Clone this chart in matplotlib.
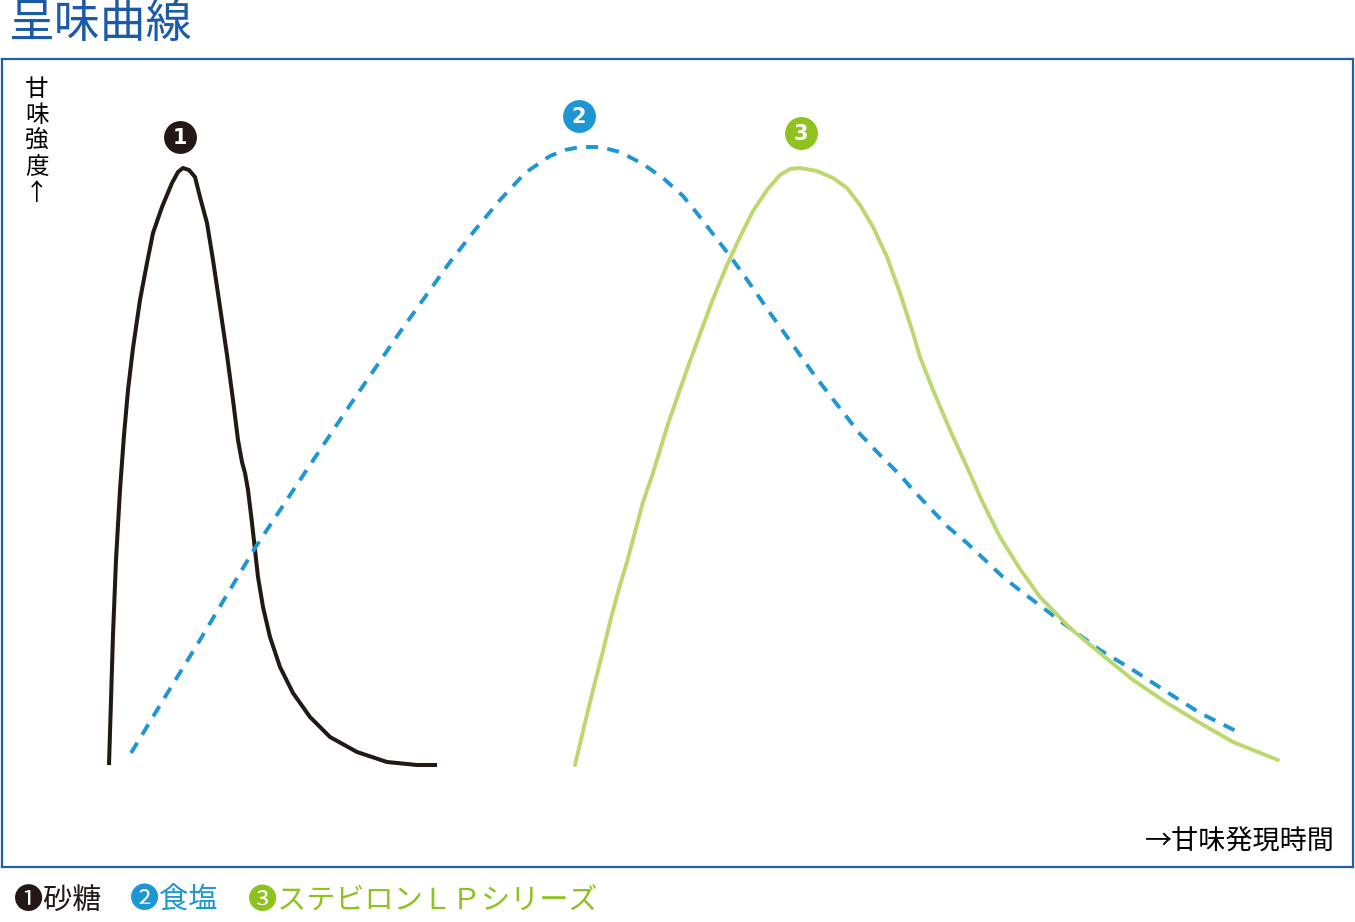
import matplotlib
matplotlib.use("Agg")
import matplotlib.pyplot as plt

plt.rcParams["font.family"] = ["Noto Sans CJK JP", "DejaVu Sans"]

FRAME_BOTTOM = 867   # pixel row of the frame bottom, intensity = FRAME_BOTTOM - row

# curves as (time, pixel row)
SUGAR_T = [109, 111, 113, 116, 120, 124, 128, 133, 140, 147, 153, 162, 172, 178, 183, 189,
           195, 200, 207, 213, 220, 227, 233, 238, 242, 245, 248, 252, 255, 258, 263, 270,
           280, 293, 310, 330, 357, 387, 417, 437]
SUGAR_Y = [765, 700, 635, 560, 490, 435, 390, 348, 300, 263, 233, 207, 183, 172, 168, 170,
           177, 197, 223, 260, 307, 355, 400, 440, 462, 473, 490, 523, 550, 577, 607, 637,
           667, 693, 717, 737, 752, 762, 765, 765]

SALT_T = [131, 165, 200, 228, 255, 300, 350, 400, 450, 475, 500, 525, 550, 565, 580, 600,
          620, 643, 663, 683, 700, 713, 730, 743, 757, 770, 785, 800, 815, 832, 860, 880,
          900, 913, 930, 948, 967, 985, 1003, 1022, 1042, 1063, 1100, 1133, 1167, 1200, 1240]
SALT_Y = [753, 697, 640, 593, 548, 480, 405, 332, 262, 230, 200, 173, 156, 150, 147, 147,
          152, 164, 178, 196, 217, 234, 256, 274, 294, 313, 334, 355, 376, 398, 434, 455,
          475, 490, 508, 527, 543, 560, 577, 592, 607, 623, 650, 670, 692, 713, 733]

STEVIA_T = [575, 584, 593, 602, 610, 618, 627, 635, 643, 652, 660, 668, 677, 690, 700, 713,
            727, 740, 753, 767, 780, 790, 800, 817, 833, 847, 860, 873, 887, 900, 913, 920,
            933, 950, 967, 983, 1000, 1020, 1040, 1070, 1100, 1133, 1167, 1200, 1233, 1278]
STEVIA_Y = [765, 727, 690, 655, 622, 592, 562, 532, 502, 476, 450, 424, 398, 361, 334, 299,
            265, 237, 211, 190, 175, 169, 168, 171, 178, 188, 205, 227, 257, 293, 333, 357,
            390, 430, 467, 503, 537, 569, 597, 628, 653, 680, 703, 723, 742, 760]

LABELS = ["1", "2", "3"]
LABEL_T = [180, 579, 801]
LABEL_Y = [137, 116, 133]

LEGEND = ["❶砂糖", "❷食塩", "❸ステビロンＬＰシリーズ"]
LEGEND_X = [14, 130, 248]

BLACK = "#231815"
BLUE = "#1e96d4"
GREEN_LINE = "#bad86e"
GREEN = "#8dc21f"
NAVY = "#1b5aa6"


def inten(rows):
    return [FRAME_BOTTOM - r for r in rows]


fig = plt.figure(figsize=(13.55, 9.22), dpi=100)
ax = fig.add_axes([2 / 1355, 55 / 922, 1351 / 1355, 808 / 922])
ax.set_xlim(2, 1353)
ax.set_ylim(0, 808)
ax.set_xticks([])
ax.set_yticks([])
for sp in ax.spines.values():
    sp.set_color("#1f5fa8")
    sp.set_linewidth(1.6)

ax.plot(SUGAR_T, inten(SUGAR_Y), color=BLACK, lw=2.9, solid_capstyle="butt", solid_joinstyle="round")
ax.plot(SALT_T, inten(SALT_Y), color=BLUE, lw=2.8, linestyle=(0, (3.1, 2.4)), dash_capstyle="butt")
ax.plot(STEVIA_T, inten(STEVIA_Y), color=GREEN_LINE, lw=2.8, solid_capstyle="round", solid_joinstyle="round")

for lab, t, i, c in zip(LABELS, LABEL_T, inten(LABEL_Y), [BLACK, BLUE, GREEN]):
    ax.scatter([t], [i], s=560, color=c, zorder=5, linewidths=0)
    ax.text(t, i - 1, lab, color="white", fontsize=15, fontweight="bold",
            ha="center", va="center", zorder=6, family=["DejaVu Sans"])

ax.text(37, 789, "甘\n味\n強\n度\n↑", fontsize=17, linespacing=1.16,
        ha="center", va="top", color="black")
ax.text(1335, 25, "→甘味発現時間", fontsize=19.5, ha="right", va="center", color="black")

fig.text(8 / 1355, 1 - 24 / 922, "呈味曲線", fontsize=33, color=NAVY, ha="left", va="center")

for txt, x, c in zip(LEGEND, LEGEND_X, [BLACK, BLUE, GREEN]):
    fig.text(x / 1355, 1 - 901 / 922, txt, fontsize=21, color=c, ha="left", va="center")

fig.savefig("out.png", dpi=100)
